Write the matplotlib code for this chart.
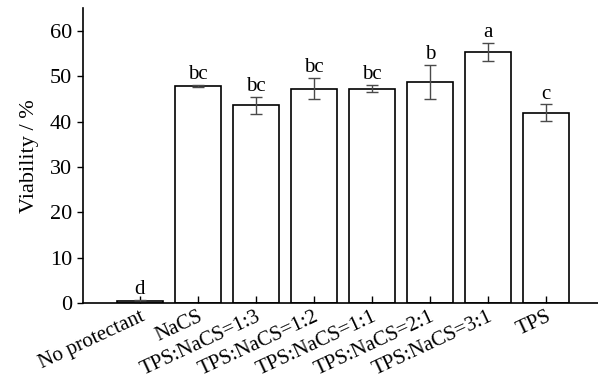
import numpy as np
import matplotlib
matplotlib.use("Agg")
import matplotlib.pyplot as plt

plt.rcParams['font.family'] = ['Liberation Serif', 'DejaVu Serif']

groups = ["No protectant", "NaCS", "TPS:NaCS=1:3", "TPS:NaCS=1:2",
          "TPS:NaCS=1:1", "TPS:NaCS=2:1", "TPS:NaCS=3:1", "TPS"]
viability = [0.5, 47.9, 43.6, 47.3, 47.3, 48.8, 55.4, 42.0]
sd = [0.3, 0.3, 1.9, 2.3, 0.75, 3.7, 2.0, 1.8]
letters = ["d", "bc", "bc", "bc", "bc", "b", "a", "c"]

fig = plt.figure(figsize=(5.98, 3.78), dpi=100)
ax = fig.add_axes([0.138, 0.198, 0.862, 0.78])

x = np.arange(len(groups))
ax.bar(x, viability, width=0.8, color='white', edgecolor='black', linewidth=1.2)
ax.errorbar(x, viability, yerr=sd, fmt='none', ecolor='#4a4a4a',
            elinewidth=1.0, capsize=4, capthick=1.0)

# significance letters above each error bar
for xi, v, s, lab in zip(x, viability, sd, letters):
    ax.text(xi, v + s + 0.2, lab, ha='center', va='bottom', fontsize=15)

ax.set_xlim(-0.99, 7.9)
ax.set_ylim(0, 65)
ax.set_yticks(range(0, 61, 10))
ax.set_xticks(x)
ax.set_xticklabels(groups, rotation=25, ha='right', rotation_mode='anchor')
ax.set_ylabel("Viability / %", fontsize=16, labelpad=8)

ax.spines['top'].set_visible(False)
ax.spines['right'].set_visible(False)
ax.spines['left'].set_linewidth(1.2)
ax.spines['bottom'].set_linewidth(1.2)
ax.tick_params(axis='y', direction='out', length=4, width=1.0, labelsize=16)
ax.tick_params(axis='x', direction='in', length=5, width=1.0, labelsize=15, pad=3)

fig.savefig("out.png", dpi=100)
